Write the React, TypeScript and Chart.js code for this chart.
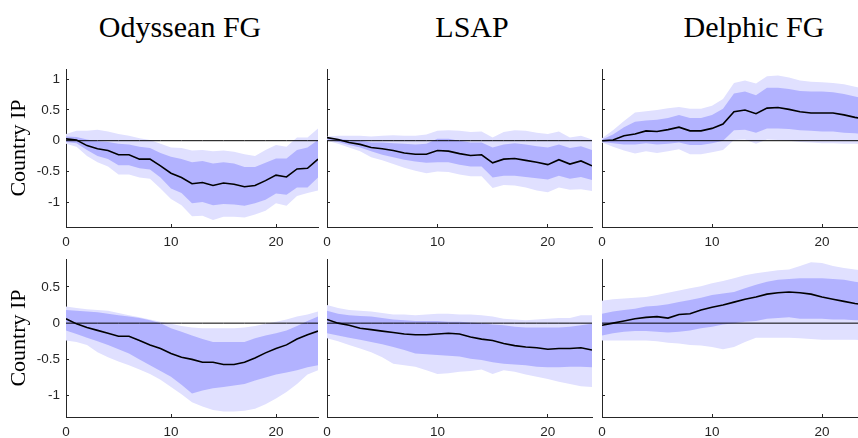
import React, { useEffect, useRef } from 'react';
import { Chart, registerables } from 'chart.js';

Chart.register(...registerables);

// Forecast horizon (months)
const horizons = [0, 1, 2, 3, 4, 5, 6, 7, 8, 9, 10, 11, 12, 13, 14, 15, 16, 17, 18, 19, 20, 21, 22, 23, 24];
const xTicks = [0, 10, 20];
const yTicksTop = [-1, -0.5, 0, 0.5, 1];
const yTicksBottom = [-1, -0.5, 0, 0.5];

const columnTitles = ['Odyssean FG', 'LSAP', 'Delphic FG'];
const yAxisLabel = 'Country IP';

// ---- Row 1 ----
const odyR1Median = [0.03, 0.01, -0.08, -0.13, -0.16, -0.23, -0.23, -0.30, -0.30, -0.41, -0.53, -0.60, -0.70, -0.68, -0.73, -0.69, -0.71, -0.75, -0.73, -0.65, -0.56, -0.59, -0.46, -0.45, -0.30];
const odyR1InnerHi = [0.07, 0.06, 0.02, -0.01, -0.02, -0.05, -0.06, -0.10, -0.12, -0.20, -0.26, -0.30, -0.35, -0.33, -0.37, -0.35, -0.37, -0.43, -0.43, -0.36, -0.29, -0.29, -0.15, -0.11, 0.01];
const odyR1InnerLo = [-0.02, -0.04, -0.15, -0.25, -0.30, -0.40, -0.40, -0.45, -0.47, -0.60, -0.78, -0.85, -1.02, -1.00, -1.05, -1.03, -1.04, -1.06, -1.02, -0.96, -0.86, -0.88, -0.76, -0.76, -0.60];
const odyR1OuterHi = [0.11, 0.16, 0.16, 0.18, 0.15, 0.11, 0.08, 0.04, 0.01, -0.05, -0.11, -0.12, -0.16, -0.15, -0.17, -0.16, -0.18, -0.22, -0.25, -0.15, -0.07, -0.10, 0.05, 0.05, 0.20];
const odyR1OuterLo = [-0.05, -0.10, -0.25, -0.35, -0.42, -0.55, -0.55, -0.60, -0.62, -0.78, -0.95, -1.05, -1.23, -1.22, -1.29, -1.24, -1.24, -1.25, -1.20, -1.14, -1.02, -1.06, -0.90, -0.85, -0.81];

const lsapR1Median = [0.05, 0.02, -0.03, -0.06, -0.11, -0.13, -0.16, -0.20, -0.22, -0.22, -0.16, -0.17, -0.21, -0.24, -0.23, -0.36, -0.30, -0.29, -0.32, -0.35, -0.39, -0.31, -0.38, -0.33, -0.41];
const lsapR1InnerHi = [0.05, 0.03, 0.01, 0.00, -0.03, -0.03, -0.04, -0.05, -0.06, -0.05, 0.03, 0.03, 0.00, -0.03, -0.03, -0.11, -0.06, -0.04, -0.06, -0.09, -0.11, -0.06, -0.12, -0.09, -0.15];
const lsapR1InnerLo = [0.02, -0.02, -0.07, -0.11, -0.17, -0.23, -0.27, -0.31, -0.34, -0.36, -0.35, -0.35, -0.39, -0.42, -0.42, -0.60, -0.57, -0.57, -0.59, -0.61, -0.63, -0.57, -0.62, -0.59, -0.64];
const lsapR1OuterHi = [0.07, 0.08, 0.08, 0.08, 0.07, 0.08, 0.09, 0.08, 0.08, 0.10, 0.16, 0.17, 0.16, 0.14, 0.15, 0.05, 0.14, 0.17, 0.16, 0.13, 0.11, 0.15, 0.05, 0.08, 0.02];
const lsapR1OuterLo = [0.00, -0.05, -0.11, -0.17, -0.27, -0.32, -0.38, -0.44, -0.49, -0.53, -0.50, -0.51, -0.55, -0.58, -0.58, -0.77, -0.72, -0.73, -0.76, -0.81, -0.84, -0.76, -0.80, -0.79, -0.82];

const delR1Median = [0.00, 0.01, 0.08, 0.11, 0.16, 0.15, 0.18, 0.22, 0.16, 0.16, 0.20, 0.27, 0.47, 0.50, 0.44, 0.53, 0.54, 0.51, 0.47, 0.45, 0.45, 0.45, 0.42, 0.38, 0.35];
const delR1InnerHi = [0.02, 0.10, 0.22, 0.31, 0.33, 0.34, 0.37, 0.42, 0.37, 0.37, 0.42, 0.52, 0.77, 0.80, 0.74, 0.86, 0.86, 0.84, 0.81, 0.80, 0.80, 0.79, 0.76, 0.72, 0.68];
const delR1InnerLo = [-0.02, -0.04, -0.06, -0.06, -0.04, -0.06, -0.05, -0.03, -0.07, -0.07, -0.04, 0.00, 0.17, 0.18, 0.13, 0.20, 0.20, 0.19, 0.17, 0.16, 0.15, 0.15, 0.13, 0.12, 0.10];
const delR1OuterHi = [0.04, 0.17, 0.32, 0.46, 0.48, 0.50, 0.53, 0.55, 0.52, 0.52, 0.57, 0.68, 0.94, 0.98, 0.93, 1.05, 1.06, 1.03, 0.98, 0.96, 0.95, 0.94, 0.92, 0.88, 0.84];
const delR1OuterLo = [-0.03, -0.10, -0.16, -0.21, -0.17, -0.20, -0.17, -0.14, -0.22, -0.22, -0.19, -0.15, 0.01, 0.02, -0.05, 0.02, 0.01, 0.00, -0.02, -0.03, -0.04, -0.04, -0.05, -0.05, -0.06];

// ---- Row 2 ----
const odyR2Median = [0.06, -0.01, -0.06, -0.10, -0.14, -0.18, -0.18, -0.24, -0.30, -0.35, -0.42, -0.47, -0.50, -0.54, -0.54, -0.57, -0.57, -0.54, -0.48, -0.41, -0.35, -0.30, -0.22, -0.16, -0.11];
const odyR2InnerHi = [0.18, 0.17, 0.16, 0.15, 0.13, 0.11, 0.09, 0.07, 0.04, 0.00, -0.07, -0.12, -0.17, -0.22, -0.26, -0.26, -0.26, -0.26, -0.21, -0.17, -0.14, -0.10, -0.04, 0.03, 0.09];
const odyR2InnerLo = [-0.10, -0.15, -0.20, -0.25, -0.30, -0.36, -0.42, -0.50, -0.58, -0.66, -0.74, -0.85, -0.97, -0.93, -0.90, -0.88, -0.86, -0.84, -0.79, -0.75, -0.71, -0.68, -0.65, -0.61, -0.58];
const odyR2OuterHi = [0.23, 0.21, 0.19, 0.18, 0.17, 0.14, 0.11, 0.08, 0.05, 0.02, -0.01, -0.04, -0.06, -0.07, -0.07, -0.07, -0.07, -0.06, -0.04, -0.01, 0.02, 0.05, 0.09, 0.12, 0.16];
const odyR2OuterLo = [-0.24, -0.26, -0.30, -0.40, -0.47, -0.53, -0.58, -0.64, -0.70, -0.78, -0.88, -0.98, -1.09, -1.15, -1.20, -1.22, -1.22, -1.21, -1.18, -1.12, -1.04, -0.95, -0.84, -0.71, -0.65];

const lsapR2Median = [0.05, 0.00, -0.03, -0.07, -0.09, -0.11, -0.13, -0.15, -0.16, -0.16, -0.15, -0.14, -0.15, -0.19, -0.22, -0.24, -0.28, -0.31, -0.33, -0.34, -0.36, -0.35, -0.35, -0.34, -0.37];
const lsapR2InnerHi = [0.17, 0.13, 0.11, 0.10, 0.09, 0.07, 0.05, 0.04, 0.03, 0.03, 0.03, 0.02, 0.02, 0.01, 0.00, -0.02, -0.03, -0.05, -0.06, -0.06, -0.06, -0.06, -0.05, -0.03, -0.01];
const lsapR2InnerLo = [-0.14, -0.17, -0.20, -0.23, -0.26, -0.29, -0.33, -0.37, -0.42, -0.43, -0.44, -0.45, -0.46, -0.49, -0.51, -0.54, -0.56, -0.57, -0.58, -0.60, -0.61, -0.61, -0.60, -0.60, -0.61];
const lsapR2OuterHi = [0.25, 0.21, 0.18, 0.17, 0.16, 0.14, 0.12, 0.12, 0.11, 0.12, 0.13, 0.13, 0.12, 0.12, 0.11, 0.09, 0.06, 0.05, 0.04, 0.05, 0.06, 0.07, 0.07, 0.11, 0.11];
const lsapR2OuterLo = [-0.21, -0.25, -0.30, -0.35, -0.40, -0.47, -0.56, -0.58, -0.60, -0.65, -0.70, -0.69, -0.67, -0.66, -0.64, -0.70, -0.65, -0.67, -0.71, -0.74, -0.77, -0.81, -0.84, -0.87, -0.88];

const delR2Median = [-0.03, 0.00, 0.03, 0.06, 0.08, 0.09, 0.07, 0.12, 0.13, 0.18, 0.22, 0.25, 0.29, 0.33, 0.36, 0.40, 0.42, 0.43, 0.42, 0.40, 0.36, 0.33, 0.30, 0.27, 0.25];
const delR2InnerHi = [0.13, 0.16, 0.18, 0.20, 0.23, 0.24, 0.26, 0.29, 0.32, 0.35, 0.39, 0.41, 0.43, 0.48, 0.53, 0.57, 0.60, 0.61, 0.62, 0.62, 0.62, 0.61, 0.60, 0.57, 0.55];
const delR2InnerLo = [-0.17, -0.14, -0.12, -0.11, -0.11, -0.12, -0.13, -0.12, -0.10, -0.07, -0.05, -0.02, 0.00, 0.02, 0.03, 0.06, 0.07, 0.08, 0.06, 0.06, 0.06, 0.05, 0.05, 0.04, 0.04];
const delR2OuterHi = [0.31, 0.33, 0.34, 0.35, 0.36, 0.39, 0.42, 0.45, 0.48, 0.51, 0.55, 0.58, 0.62, 0.66, 0.69, 0.71, 0.73, 0.74, 0.79, 0.84, 0.83, 0.79, 0.76, 0.74, 0.72];
const delR2OuterLo = [-0.24, -0.24, -0.24, -0.24, -0.24, -0.25, -0.27, -0.28, -0.30, -0.31, -0.33, -0.36, -0.33, -0.26, -0.20, -0.20, -0.20, -0.20, -0.21, -0.22, -0.23, -0.23, -0.23, -0.23, -0.24];

const BAND_OUTER = 'rgb(224,224,255)';
const BAND_INNER = 'rgb(178,178,255)';
const AXIS_COLOR = '#262626';
const TICK_FONT = { family: '"Liberation Sans", Arial, Helvetica, sans-serif', size: 13.5 };
const SERIF = '"Liberation Serif", "Times New Roman", serif';

type Series = { median: number[]; innerHi: number[]; innerLo: number[]; outerHi: number[]; outerLo: number[] };

type PanelProps = {
  left: number;
  top: number;
  width: number;
  height: number;
  yAxisWidth: number;
  padTop: number;
  padRight: number;
  xAxisHeight: number;
  yMin: number;
  yMax: number;
  yTicks: number[];
  showY: boolean;
  series: Series;
};

const toPoints = (arr: number[]) => arr.map((v, i) => ({ x: horizons[i], y: v }));

function Panel(p: PanelProps) {
  const ref = useRef<HTMLCanvasElement | null>(null);

  useEffect(() => {
    if (!ref.current) return;
    const zero = horizons.map(() => 0);
    const band = (arr: number[], color: string | null) => ({
      data: toPoints(arr),
      borderWidth: 0,
      borderColor: 'rgba(0,0,0,0)',
      backgroundColor: color ?? 'rgba(0,0,0,0)',
      pointRadius: 0,
      fill: color ? '+1' : false,
      tension: 0,
    });
    const chart = new Chart(ref.current, {
      type: 'line',
      data: {
        datasets: [
          { data: toPoints(p.series.median), borderColor: '#000', borderWidth: 1.6, pointRadius: 0, fill: false, tension: 0 },
          { data: toPoints(zero), borderColor: '#000', borderWidth: 1, pointRadius: 0, fill: false },
          band(p.series.innerHi, BAND_INNER),
          band(p.series.innerLo, null),
          band(p.series.outerHi, BAND_OUTER),
          band(p.series.outerLo, null),
        ] as any,
      },
      options: {
        animation: false,
        responsive: true,
        maintainAspectRatio: false,
        events: [],
        layout: { padding: { top: p.padTop, right: p.padRight, left: 0, bottom: 0 } },
        plugins: {
          legend: { display: false },
          tooltip: { enabled: false },
          filler: { drawTime: 'beforeDatasetsDraw' },
        },
        scales: {
          x: {
            type: 'linear',
            min: 0,
            max: 24,
            border: { display: true, color: AXIS_COLOR, width: 1 },
            grid: { drawOnChartArea: false, drawTicks: true, tickLength: -3, color: AXIS_COLOR },
            ticks: { color: AXIS_COLOR, font: TICK_FONT, padding: 10, maxRotation: 0, callback: (v: any) => String(v) },
            afterBuildTicks: (s: any) => { s.ticks = xTicks.map((v) => ({ value: v })); },
            afterFit: (s: any) => {
              s.height = p.xAxisHeight;
              s.paddingLeft = 0;
              s.paddingRight = 0;
              s.paddingTop = 0;
              s.paddingBottom = 0;
            },
          },
          y: {
            type: 'linear',
            min: p.yMin,
            max: p.yMax,
            border: { display: true, color: AXIS_COLOR, width: 1 },
            grid: { drawOnChartArea: false, drawTicks: true, tickLength: -3, color: AXIS_COLOR },
            ticks: { display: p.showY, color: AXIS_COLOR, font: TICK_FONT, padding: 9, callback: (v: any) => String(v) },
            title: {
              display: p.showY,
              text: yAxisLabel,
              color: '#000',
              font: { family: SERIF, size: 22 },
              padding: { top: 6, bottom: 0 },
            },
            afterBuildTicks: (s: any) => { s.ticks = p.yTicks.map((v) => ({ value: v })); },
            afterFit: (s: any) => {
              s.width = p.yAxisWidth;
              s.paddingLeft = 0;
              s.paddingRight = 0;
              s.paddingTop = 0;
              s.paddingBottom = 0;
            },
          },
        },
      } as any,
    });
    return () => chart.destroy();
  }, []);

  return (
    <div style={{ position: 'absolute', left: p.left, top: p.top, width: p.width, height: p.height }}>
      <canvas ref={ref} />
    </div>
  );
}

// Plot-area boxes: [left, right] per column, [top, bottom] per row
const colBounds = [
  [66, 318],
  [327, 592],
  [602, 866],
];
const rowBounds = [
  [69, 227],
  [259, 417],
];
const rowLimits = [
  { min: -1.405, max: 1.167, ticks: yTicksTop },
  { min: -1.295, max: 0.885, ticks: yTicksBottom },
];
const titleCenters = [180, 472, 754];

const panelSeries: Series[][] = [
  [
    { median: odyR1Median, innerHi: odyR1InnerHi, innerLo: odyR1InnerLo, outerHi: odyR1OuterHi, outerLo: odyR1OuterLo },
    { median: lsapR1Median, innerHi: lsapR1InnerHi, innerLo: lsapR1InnerLo, outerHi: lsapR1OuterHi, outerLo: lsapR1OuterLo },
    { median: delR1Median, innerHi: delR1InnerHi, innerLo: delR1InnerLo, outerHi: delR1OuterHi, outerLo: delR1OuterLo },
  ],
  [
    { median: odyR2Median, innerHi: odyR2InnerHi, innerLo: odyR2InnerLo, outerHi: odyR2OuterHi, outerLo: odyR2OuterLo },
    { median: lsapR2Median, innerHi: lsapR2InnerHi, innerLo: lsapR2InnerLo, outerHi: lsapR2OuterHi, outerLo: lsapR2OuterLo },
    { median: delR2Median, innerHi: delR2InnerHi, innerLo: delR2InnerLo, outerHi: delR2OuterHi, outerLo: delR2OuterLo },
  ],
];

export default function App() {
  const PAD_TOP = 8;
  const PAD_RIGHT = 6;
  const X_AXIS_H = 28;
  const panels: React.ReactNode[] = [];
  rowBounds.forEach(([t, b], r) => {
    colBounds.forEach(([l, rr], c) => {
      const yw = c === 0 ? l : 10;
      const left = l - yw;
      const top = t - PAD_TOP;
      panels.push(
        <Panel
          key={`${r}-${c}`}
          left={left}
          top={top}
          width={rr + PAD_RIGHT - left}
          height={b + X_AXIS_H - top}
          yAxisWidth={yw}
          padTop={PAD_TOP}
          padRight={PAD_RIGHT}
          xAxisHeight={X_AXIS_H}
          yMin={rowLimits[r].min}
          yMax={rowLimits[r].max}
          yTicks={rowLimits[r].ticks}
          showY={c === 0}
          series={panelSeries[r][c]}
        />
      );
    });
  });

  return (
    <div style={{ position: 'absolute', left: 0, top: 0, width: 858, height: 438, overflow: 'hidden', background: '#fff' }}>
      {columnTitles.map((t, i) => (
        <div
          key={t}
          style={{
            position: 'absolute',
            left: titleCenters[i] - 150,
            top: 12,
            width: 300,
            textAlign: 'center',
            fontFamily: SERIF,
            fontSize: 30,
            lineHeight: '30px',
            color: '#000',
          }}
        >
          {t}
        </div>
      ))}
      {panels}
    </div>
  );
}
